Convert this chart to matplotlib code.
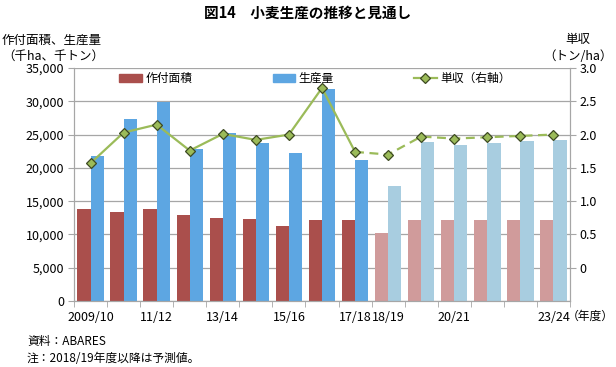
import numpy as np
import matplotlib
matplotlib.use("Agg")
import matplotlib.pyplot as plt
from matplotlib.lines import Line2D
from matplotlib.patches import Patch
from matplotlib.ticker import FuncFormatter

plt.rcParams["font.family"] = ["Noto Sans CJK JP", "DejaVu Sans"]

# --------------------------------------------------------------- data
years = ["2009/10", "10/11", "11/12", "12/13", "13/14", "14/15", "15/16",
         "16/17", "17/18", "18/19", "19/20", "20/21", "21/22", "22/23", "23/24"]
shown_labels = {"2009/10", "11/12", "13/14", "15/16", "17/18", "18/19",
                "20/21", "23/24"}
area = [13800, 13420, 13850, 12920, 12520, 12320, 11220,
        12120, 12220, 10210, 12120, 12120, 12120, 12120, 12120]
production = [21780, 27340, 29940, 22830, 25290, 23730, 22230,
              31800, 21230, 17270, 23930, 23430, 23780, 24080, 24230]
yield_t = [1.57, 2.03, 2.15, 1.76, 2.01, 1.92, 2.00,
           2.70, 1.74, 1.70, 1.97, 1.94, 1.96, 1.98, 2.00]
first_forecast = 9  # 2018/19 onward is forecast

RED, RED_F = "#aa4f4c", "#d09b9b"
BLUE, BLUE_F = "#5da6e2", "#a8cde0"
GREEN = "#9bbb59"
GRID = "#a6a6a6"

# --------------------------------------------------------------- chart
fig = plt.figure(figsize=(6.16, 3.67), dpi=100)
ax = fig.add_axes([74 / 616, 66 / 367, 496 / 616, 233 / 367])
ax2 = ax.twinx()

x = np.arange(len(years))
fc = [RED if i < first_forecast else RED_F for i in x]
pc = [BLUE if i < first_forecast else BLUE_F for i in x]
ax.bar(x - 0.2, area, width=0.4, color=fc, zorder=2)
ax.bar(x + 0.2, production, width=0.4, color=pc, zorder=2)

ax.set_xlim(-0.5, len(years) - 0.5)
ax.set_ylim(0, 35000)
ax.set_yticks(np.arange(0, 35001, 5000))
ax.yaxis.set_major_formatter(FuncFormatter(lambda v, p: f"{int(v):,}"))
ax.grid(axis="y", color=GRID, lw=0.9, zorder=0)
ax.set_axisbelow(True)

ax.set_xticks(x)
ax.set_xticklabels([y if y in shown_labels else "" for y in years])
ax.set_xticks(np.arange(-0.5, len(years)), minor=True)
ax.tick_params(axis="x", which="major", length=0, pad=7, labelsize=9)
ax.tick_params(axis="x", which="minor", length=4, color=GRID)
ax.tick_params(axis="y", length=4, color=GRID, labelsize=9, pad=3)

# yield line: actual solid, forecast dashed
ax2.plot(x[:first_forecast], yield_t[:first_forecast], color=GREEN, lw=1.6, zorder=3)
ax2.plot(x[first_forecast - 1:], yield_t[first_forecast - 1:], color=GREEN,
         lw=1.6, ls=(0, (4, 2.5)), zorder=3)
ax2.plot(x, yield_t, ls="none", marker="D", ms=5.5, mfc=GREEN,
         mec="#3d4a22", mew=0.9, zorder=4)
ax2.set_ylim(-0.5, 3.0)
ax2.set_yticks(np.arange(0, 3.01, 0.5))
ax2.yaxis.set_major_formatter(FuncFormatter(lambda v, p: "0" if v == 0 else f"{v:.1f}"))
ax2.tick_params(axis="y", length=4, color=GRID, labelsize=9, pad=3)

for a in (ax, ax2):
    a.spines["top"].set_visible(False)
    for s in ("left", "right", "bottom"):
        a.spines[s].set_color(GRID)

handles = [
    Patch(color=RED, label="作付面積"),
    Patch(color=BLUE, label="生産量"),
    Line2D([], [], color=GREEN, lw=1.6, marker="D", ms=5.5, mfc=GREEN,
           mec="#3d4a22", mew=0.9, label="単収（右軸）"),
]
ax2.legend(handles=handles, loc="center left", bbox_to_anchor=(0.07, 0.955),
           ncol=3, frameon=False, fontsize=8.5, columnspacing=6.8,
           handlelength=1.9, handleheight=0.6, handletextpad=0.3)

# --------------------------------------------------------------- text
fig.text(0.5, 1 - 13 / 367, "図14　小麦生産の推移と見通し", ha="center",
         va="center", fontsize=10.5, fontweight="bold")
fig.text(2 / 616, 1 - 48 / 367, "作付面積、生産量\n（千ha、千トン）", ha="left",
         va="center", fontsize=9, linespacing=1.3)
fig.text(613 / 616, 1 - 48 / 367, "単収\n（トン/ha）", ha="right",
         va="center", fontsize=9, linespacing=1.3, multialignment="center")
fig.text(614 / 616, 1 - 316 / 367, "（年度）", ha="right", va="center", fontsize=8.5)
fig.text(27 / 616, 1 - 341 / 367, "資料：ABARES", ha="left", va="center", fontsize=8.5)
fig.text(27 / 616, 1 - 358 / 367, "注：2018/19年度以降は予測値。", ha="left",
         va="center", fontsize=8.5)

fig.savefig("out.png", dpi=100)
